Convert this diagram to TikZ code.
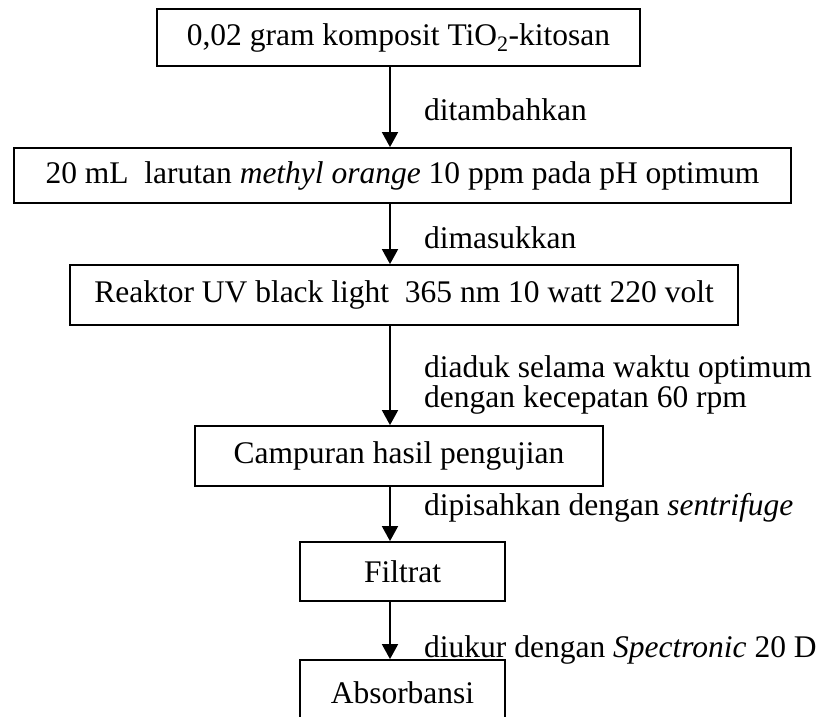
\documentclass[tikz,border=0pt]{standalone}
\usepackage{fontspec}
\setmainfont{Liberation Serif}
\usetikzlibrary{arrows.meta}
\begin{document}
\begin{tikzpicture}[x=1pt,y=-1pt,
  box/.style={draw,line width=1.8pt,inner sep=0pt,font=\fontsize{31.5}{34}\selectfont},
  lbl/.style={anchor=base west,inner sep=0pt,font=\fontsize{31.5}{30}\selectfont},
  arr/.style={line width=1.8pt,-{Triangle[length=15pt,width=16pt]}}]
\clip (0,0) rectangle (825,717);
\coordinate (ax) at (390,0);
\node[box,minimum width=483pt,minimum height=57pt] (b1) at (398.5,37.5) {0,02 gram komposit TiO\textsubscript{2}-kitosan};
\node[box,minimum width=777pt,minimum height=55pt] (b2) at (402.5,175.5) {20 mL\ \ larutan \textit{methyl orange} 10 ppm pada pH optimum};
\node[box,minimum width=668pt,minimum height=60pt] (b3) at (404,295) {Reaktor UV black light\ \ 365 nm 10 watt 220 volt};
\node[box,minimum width=408pt,minimum height=60pt] (b4) at (399,456) {Campuran hasil pengujian};
\node[box,minimum width=205pt,minimum height=59pt] (b5) at (402.5,571.5) {Filtrat};
\node[box,minimum width=205pt,minimum height=66pt] (b6) at (402.5,693) {Absorbansi};
\draw[arr] (b1.south -| ax) -- (b2.north -| ax);
\draw[arr] (b2.south -| ax) -- (b3.north -| ax);
\draw[arr] (b3.south -| ax) -- (b4.north -| ax);
\draw[arr] (b4.south -| ax) -- (b5.north -| ax);
\draw[arr] (b5.south -| ax) -- (b6.north -| ax);
\node[lbl] (l1) at (424,120) {ditambahkan};
\node[lbl] (l2) at (424,248) {dimasukkan};
\node[lbl] (l3) at (424,377) {diaduk selama waktu optimum};
\node[lbl] (l4) at (424,407) {dengan kecepatan 60 rpm};
\node[lbl] (l5) at (424,515) {dipisahkan dengan \textit{sentrifuge}};
\node[lbl] (l6) at (424,657) {diukur dengan \textit{Spectronic} 20 D};
\end{tikzpicture}
\end{document}
